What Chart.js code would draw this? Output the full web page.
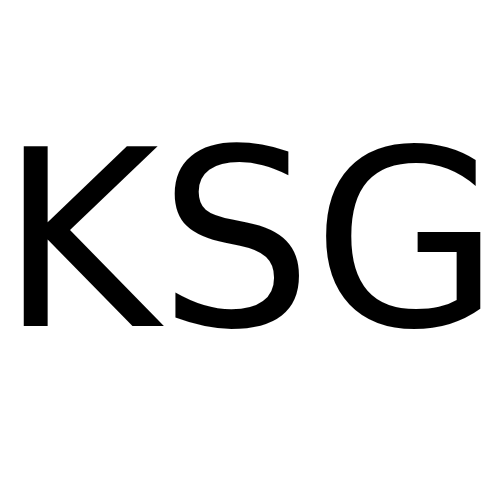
<!DOCTYPE html>
<html>
<head>
<meta charset="utf-8">
<script src="https://cdn.jsdelivr.net/npm/chart.js@4"></script>
<style>
  html, body { margin: 0; padding: 0; background: #fff; }
  #wrap { width: 500px; height: 500px; }
</style>
</head>
<body>
<div id="wrap"><canvas id="chart"></canvas></div>
<script>
// the picture has no marks, only one big word
const titleText = 'KSG';
const categories = [];
const values = [];

const ctx = document.getElementById('chart').getContext('2d');
new Chart(ctx, {
    type: 'bar',
    data: {
        labels: categories,
        datasets: [{ data: values }]
    },
    options: {
        responsive: true,
        maintainAspectRatio: false,
        animation: false,
        layout: { padding: 0 },
        scales: {
            x: { display: false },
            y: { display: false }
        },
        plugins: {
            legend: { display: false },
            tooltip: { enabled: false },
            title: {
                display: true,
                text: titleText,
                color: '#000',
                font: { family: 'DejaVu Sans', size: 247, weight: 'normal', lineHeight: 1.2 },
                padding: { top: 114, bottom: 0 }
            }
        }
    }
});
</script>
</body>
</html>
